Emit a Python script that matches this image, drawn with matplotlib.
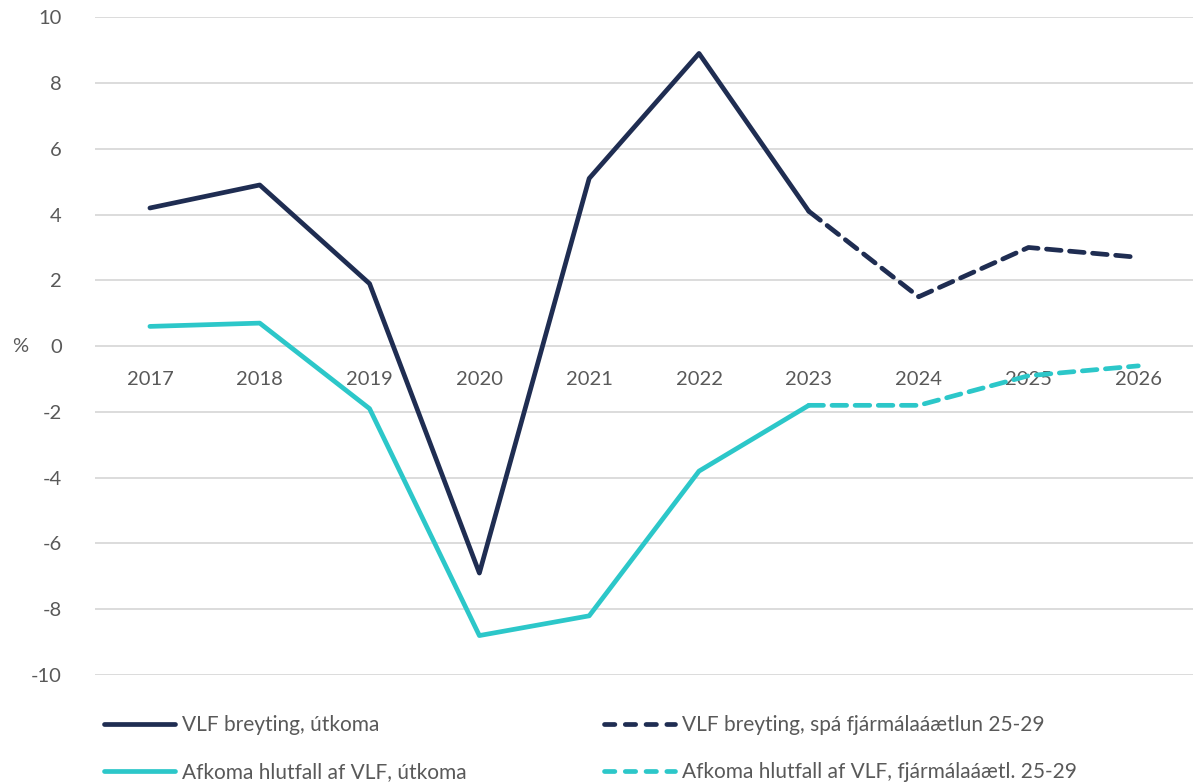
import matplotlib
matplotlib.use("Agg")
import matplotlib.pyplot as plt
from matplotlib.lines import Line2D

# data
years = ["2017", "2018", "2019", "2020", "2021", "2022", "2023", "2024", "2025", "2026"]
vlf_change = [4.2, 4.9, 1.9, -6.9, 5.1, 8.9, 4.1, 1.5, 3.0, 2.7]
balance_ratio = [0.6, 0.7, -1.9, -8.8, -8.2, -3.8, -1.8, -1.8, -0.9, -0.6]
last_outcome = 6  # index of 2023, where the forecast starts

labels = [
    "VLF breyting, útkoma",
    "Afkoma hlutfall af VLF, útkoma",
    "VLF breyting, spá fjármálaáætlun 25-29",
    "Afkoma hlutfall af VLF, fjármálaáætl. 25-29",
]

navy = "#1f2d52"
cyan = "#2cc7c9"
grey = "#595959"

plt.rcParams["font.family"] = ["Lato", "DejaVu Sans"]
plt.rcParams["axes.unicode_minus"] = False
fs = 14.5

fig = plt.figure(figsize=(11.98, 7.84), dpi=100)
ax = fig.add_axes([0.0793, 0.139, 0.9167, 0.839])

x = list(range(len(years)))
lw = 3.4
dash = (3.1, 1.8)

ax.plot(x[: last_outcome + 1], vlf_change[: last_outcome + 1], color=navy, lw=lw,
        solid_capstyle="round", solid_joinstyle="round", zorder=3)
ax.plot(x[last_outcome:], vlf_change[last_outcome:], color=navy, lw=lw,
        dashes=dash, dash_capstyle="round", zorder=3)
ax.plot(x[: last_outcome + 1], balance_ratio[: last_outcome + 1], color=cyan, lw=lw,
        solid_capstyle="round", solid_joinstyle="round", zorder=3)
ax.plot(x[last_outcome:], balance_ratio[last_outcome:], color=cyan, lw=lw,
        dashes=dash, dash_capstyle="round", zorder=3)

ax.set_xlim(-0.5, len(years) - 0.5)
ax.set_ylim(-10, 10)
ax.set_yticks(range(-10, 11, 2))
ax.set_xticks(x)
ax.set_xticklabels(years)
ax.grid(axis="y", color="#d9d9d9", lw=1.3)
ax.set_axisbelow(True)

for side in ["top", "right", "left"]:
    ax.spines[side].set_visible(False)
ax.spines["bottom"].set_position(("data", 0))
ax.spines["bottom"].set_visible(False)
ax.tick_params(axis="both", length=0, labelsize=fs, labelcolor=grey)
ax.tick_params(axis="x", pad=18)
ax.tick_params(axis="y", pad=24)
ax.set_ylabel("%", rotation=0, fontsize=fs, color=grey, va="center")
ax.yaxis.set_label_coords(-0.068, 0.5)

h_solid = [Line2D([], [], color=navy, lw=lw, solid_capstyle="round"),
           Line2D([], [], color=cyan, lw=lw, solid_capstyle="round")]
h_dash = [Line2D([], [], color=navy, lw=lw, dashes=(2.2, 2.2), dash_capstyle="round"),
          Line2D([], [], color=cyan, lw=lw, dashes=(2.2, 2.2), dash_capstyle="round")]

legend_opts = dict(frameon=False, fontsize=15, handlelength=3.4, handletextpad=0.35,
                   labelspacing=1.3, labelcolor=grey, borderaxespad=0, borderpad=0)
fig.legend(h_solid, labels[:2], loc="upper left",
           bbox_to_anchor=(104 / 1198, 1 - 715 / 784), **legend_opts)
fig.legend(h_dash, labels[2:], loc="upper left",
           bbox_to_anchor=(604 / 1198, 1 - 715 / 784), **legend_opts)

fig.savefig("out.png", dpi=100)
